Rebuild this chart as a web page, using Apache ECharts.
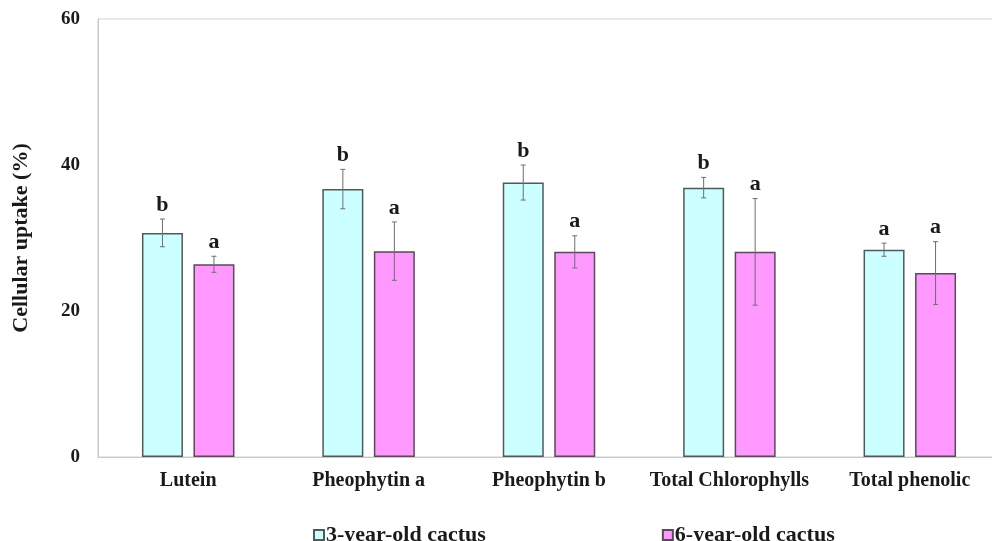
<!DOCTYPE html>
<html>
<head>
<meta charset="utf-8">
<script src="https://cdn.jsdelivr.net/npm/echarts@6/dist/echarts.min.js"></script>
<style>html,body{margin:0;padding:0;background:#fff;overflow:hidden;width:992px;height:541px;}#c{width:1010px;height:541px;}</style>
</head>
<body>
<div id="c"></div>
<script>
const categories = ['Lutein', 'Pheophytin a', 'Pheophytin b', 'Total Chlorophylls', 'Total phenolic'];
const seriesNames = ['3-year-old cactus', '6-year-old cactus'];
const mean3 = [30.7, 36.7, 37.6, 36.9, 28.4];
const err3  = [1.9, 2.7, 2.4, 1.4, 0.9];
const sig3  = ['b', 'b', 'b', 'b', 'a'];
const mean6 = [26.4, 28.2, 28.1, 28.1, 25.2];
const err6  = [1.1, 4.0, 2.2, 7.3, 4.3];
const sig6  = ['a', 'a', 'a', 'a', 'a'];
const yTicks = [0, 20, 40, 60];

const FONT = '"Liberation Serif", "Times New Roman", serif';
const BAR_W = 41;
const BAR_GAP = 10.5;
const OFFSET = (BAR_W + BAR_GAP) / 2;

function errSeries(name, means, errs, sigs, dir) {
  return {
    type: 'custom',
    name: name + '_err',
    z: 5,
    silent: true,
    data: means.map((m, i) => [i, m, errs[i]]),
    renderItem: function (params, api) {
      const i = api.value(0), m = api.value(1), e = api.value(2);
      const s = sigs[i];
      const top = api.coord([i, m + e]);
      const bot = api.coord([i, m - e]);
      const x = top[0] + dir * OFFSET;
      const cap = 2.5;
      const st = { stroke: '#6e6e6e', lineWidth: 1 };
      return {
        type: 'group',
        children: [
          { type: 'line', shape: { x1: x, y1: top[1], x2: x, y2: bot[1] }, style: st },
          { type: 'line', shape: { x1: x - cap, y1: top[1], x2: x + cap, y2: top[1] }, style: st },
          { type: 'line', shape: { x1: x - cap, y1: bot[1], x2: x + cap, y2: bot[1] }, style: st },
          { type: 'text', style: { text: s, x: x, y: top[1] - 3, textAlign: 'center', textVerticalAlign: 'bottom', font: 'bold 22px ' + FONT, fill: '#1a1a1a' } }
        ]
      };
    }
  };
}

const chart = echarts.init(document.getElementById('c'), null, { renderer: 'canvas' });
chart.setOption({
  animation: false,
  backgroundColor: '#ffffff',
  grid: { left: 98, right: 10, top: 19, bottom: 84, outerBoundsMode: 'none', show: true, borderColor: '#d0d0d0', borderWidth: 1, backgroundColor: 'transparent' },
  legend: {
    data: seriesNames,
    left: 308, top: 519,
    itemWidth: 10, itemHeight: 10, itemGap: 176,
    icon: 'rect',
    textStyle: { fontFamily: FONT, fontWeight: 'bold', fontSize: 22, color: '#1a1a1a', padding: [0, 0, 0, -3] }
  },
  xAxis: {
    type: 'category',
    data: categories,
    axisLine: { show: true, lineStyle: { color: '#c8c8c8', width: 1 } },
    axisTick: { show: false },
    axisLabel: { fontFamily: FONT, fontWeight: 'bold', fontSize: 20, color: '#1a1a1a', margin: 14, interval: 0 },
    splitLine: { show: false }
  },
  yAxis: {
    type: 'value',
    min: yTicks[0], max: yTicks[yTicks.length - 1], interval: 20,
    name: 'Cellular uptake (%)',
    nameLocation: 'middle',
    nameRotate: 90,
    nameGap: 66,
    nameTextStyle: { fontFamily: FONT, fontWeight: 'bold', fontSize: 22, color: '#1a1a1a' },
    axisLine: { show: true, lineStyle: { color: '#c8c8c8', width: 1 } },
    axisTick: { show: false },
    axisLabel: { fontFamily: FONT, fontWeight: 'bold', fontSize: 19, color: '#1a1a1a', margin: 18 },
    splitLine: { show: false }
  },
  series: [
    {
      name: seriesNames[0], type: 'bar', data: mean3, barWidth: BAR_W, barGap: (BAR_GAP / BAR_W * 100) + '%',
      itemStyle: { color: '#ccffff', borderColor: '#4f5a5a', borderWidth: 1.5 }
    },
    {
      name: seriesNames[1], type: 'bar', data: mean6, barWidth: BAR_W,
      itemStyle: { color: '#ff99ff', borderColor: '#5a4a5a', borderWidth: 1.5 }
    },
    errSeries(seriesNames[0], mean3, err3, sig3, -1),
    errSeries(seriesNames[1], mean6, err6, sig6, 1)
  ]
});
</script>
</body>
</html>
